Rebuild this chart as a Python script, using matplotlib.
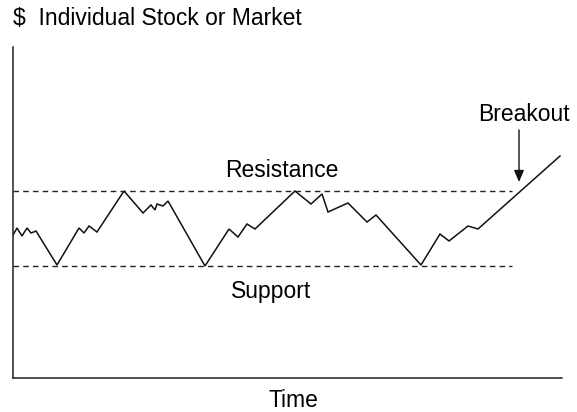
import matplotlib
matplotlib.use("Agg")
import matplotlib.pyplot as plt

# Time (arbitrary units) and price (arbitrary units)
time = [0, 4, 9, 14, 18, 23, 44, 66, 71, 76, 84, 111, 130, 138, 142, 144, 150, 155,
        192, 216, 225, 234, 242, 282, 298, 309, 315, 335, 354, 363, 408, 427, 436,
        455, 465, 547]
price = [143, 150, 142, 150, 145, 147, 113, 150, 145, 152, 146, 187, 165, 173, 168,
         174, 172, 177, 112, 149, 141, 154, 149, 187, 174, 184, 166, 175, 156, 163,
         113, 144, 137, 152, 149, 222]

support_level = 112
resistance_level = 187
level_end = 499
breakout_time = 506
breakout_arrow = [248, 196]   # arrow start / tip (price units)

title_text = "$  Individual Stock or Market"
xlabel_text = "Time"

plt.rcParams['font.family'] = ['Liberation Sans', 'DejaVu Sans']

W, H = 577, 412
fig = plt.figure(figsize=(W / 100, H / 100), dpi=100)
ax = fig.add_axes([13 / W, (H - 378) / H, (562 - 13) / W, (378 - 47) / H])
ax.set_xlim(0, 549)
ax.set_ylim(0, 331)

for s in ['top', 'right']:
    ax.spines[s].set_visible(False)
for s in ['left', 'bottom']:
    ax.spines[s].set_linewidth(1.1)
    ax.spines[s].set_color('#222222')
ax.set_xticks([])
ax.set_yticks([])

ax.plot(time, price, color='#111111', lw=1.1, solid_joinstyle='miter')
ax.plot([0, level_end], [resistance_level, resistance_level], color='#222222',
        lw=1.0, linestyle=(0, (4.0, 3.0)))
ax.plot([0, level_end], [support_level, support_level], color='#222222',
        lw=1.0, linestyle=(0, (4.0, 3.0)))

ax.annotate('', xy=(breakout_time, breakout_arrow[1]),
            xytext=(breakout_time, breakout_arrow[0]),
            arrowprops=dict(arrowstyle='-|>,head_length=0.7,head_width=0.3',
                            lw=1.0, color='#111111', shrinkA=0, shrinkB=0))

fs = 16.5
ax.text(0, 353, title_text, fontsize=fs, ha='left', va='baseline', clip_on=False)
ax.text(268.5, 201, "Resistance", fontsize=fs, ha='center', va='baseline')
ax.text(258.5, 80, "Support", fontsize=fs, ha='center', va='baseline')
ax.text(511, 257, "Breakout", fontsize=fs, ha='center', va='baseline', clip_on=False)
ax.text(280.5, -29, xlabel_text, fontsize=fs, ha='center', va='baseline', clip_on=False)

fig.savefig("out.png", dpi=100)
